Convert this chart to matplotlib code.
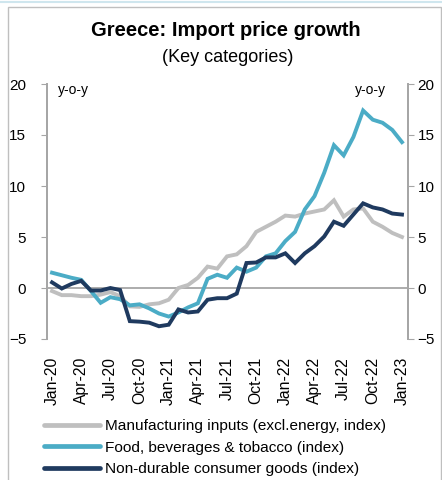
import matplotlib.pyplot as plt
from matplotlib.lines import Line2D
from matplotlib.patches import Rectangle

# monthly, Jan-20 .. Jan-23 (y-o-y %)
months = list(range(37))
tick_pos = list(range(0, 37, 3))
tick_labels = ["Jan-20", "Apr-20", "Jul-20", "Oct-20", "Jan-21", "Apr-21", "Jul-21",
               "Oct-21", "Jan-22", "Apr-22", "Jul-22", "Oct-22", "Jan-23"]

manufacturing = [-0.3, -0.7, -0.7, -0.8, -0.8, -0.65, -0.4, -0.8, -1.8, -1.85, -1.6, -1.5,
                 -1.15, 0.0, 0.3, 1.0, 2.1, 1.9, 3.1, 3.3, 4.1, 5.5, 6.0, 6.5, 7.1, 7.0,
                 7.3, 7.5, 7.7, 8.6, 7.0, 7.7, 7.8, 6.5, 6.0, 5.4, 5.0]
food = [1.5, 1.25, 1.0, 0.8, -0.3, -1.45, -0.9, -1.1, -1.7, -1.6, -2.0, -2.5, -2.8, -2.4,
        -1.9, -1.5, 0.9, 1.3, 1.0, 2.0, 1.6, 2.0, 3.1, 3.4, 4.6, 5.5, 7.7, 9.0, 11.3, 14.0,
        13.0, 14.8, 17.4, 16.5, 16.2, 15.5, 14.3]
non_durable = [0.55, -0.05, 0.4, 0.7, -0.25, -0.25, 0.0, -0.2, -3.25, -3.3, -3.4, -3.75,
               -3.6, -2.1, -2.4, -2.3, -1.15, -1.0, -1.0, -0.55, 2.45, 2.5, 3.0, 3.0, 3.4,
               2.45, 3.4, 4.1, 5.05, 6.5, 6.1, 7.2, 8.3, 7.9, 7.7, 7.3, 7.2]

labels = ["Manufacturing inputs (excl.energy, index)",
          "Food, beverages & tobacco (index)",
          "Non-durable consumer goods (index)"]
colors = ["#BFBFBF", "#4BACC6", "#1F3A5F"]

plt.rcParams["font.family"] = ["Liberation Sans", "DejaVu Sans"]

fig = plt.figure(figsize=(4.42, 4.8), dpi=100)
ax = fig.add_axes([47 / 442, 1 - 339 / 480, 361 / 442, 255 / 480])

ax.axhline(0, color="#A6A6A6", lw=1.3, zorder=1)
for series, c in zip([manufacturing, food, non_durable], colors):
    ax.plot(months, series, color=c, lw=2.8, solid_joinstyle="miter", zorder=2)

ax.set_xlim(-0.52, 36.62)
ax.set_ylim(-5, 20)
ax.set_yticks(range(-5, 21, 5))
ax.set_xticks(tick_pos)
ax.set_xticklabels(tick_labels, rotation=90, fontsize=11.3)
ax.tick_params(axis="x", length=0, pad=13)
ax.tick_params(axis="y", direction="out", length=4, color="#A6A6A6", labelsize=11,
               pad=11)

# right-hand axis, same scale
ax2 = ax.twinx()
ax2.set_ylim(-5, 20)
ax2.set_yticks(range(-5, 21, 5))
ax2.tick_params(axis="y", direction="out", length=4, color="#A6A6A6", labelsize=11,
                pad=3)

for a in [ax, ax2]:
    for side in ["top", "bottom"]:
        a.spines[side].set_visible(False)
    for side in ["left", "right"]:
        a.spines[side].set_color("#A6A6A6")
        a.spines[side].set_linewidth(1.3)

ax.text(0.03, 1.005, "y-o-y", transform=ax.transAxes, fontsize=10, va="top", ha="left")
ax.text(0.94, 1.005, "y-o-y", transform=ax.transAxes, fontsize=10, va="top", ha="right")

fig.text(0.51, 1 - 30 / 480, "Greece: Import price growth", fontsize=14.5, fontweight="bold",
         ha="center", va="center")
fig.text(0.515, 1 - 58 / 480, "(Key categories)", fontsize=13, ha="center", va="center")

handles = [Line2D([], [], color=c, lw=3.4, solid_capstyle="round") for c in colors]
fig.legend(handles, labels, loc="upper left", bbox_to_anchor=(44 / 442, 1 - 419 / 480),
           frameon=False, fontsize=11.1, handlelength=3.6, handletextpad=0.35,
           labelspacing=0.5, borderpad=0, borderaxespad=0)

# outer frame
fig.patches.append(Rectangle((8 / 442, -0.01), 433 / 442, 1 - 7 / 480 + 0.01,
                             transform=fig.transFigure, fill=False, edgecolor="#BFBFBF",
                             lw=1.0))
fig.add_artist(Line2D([0, 1], [1 - 1.5 / 480, 1 - 1.5 / 480], transform=fig.transFigure,
                      color="#CFE6EE", lw=1.5))

fig.savefig("out.png", dpi=100)
